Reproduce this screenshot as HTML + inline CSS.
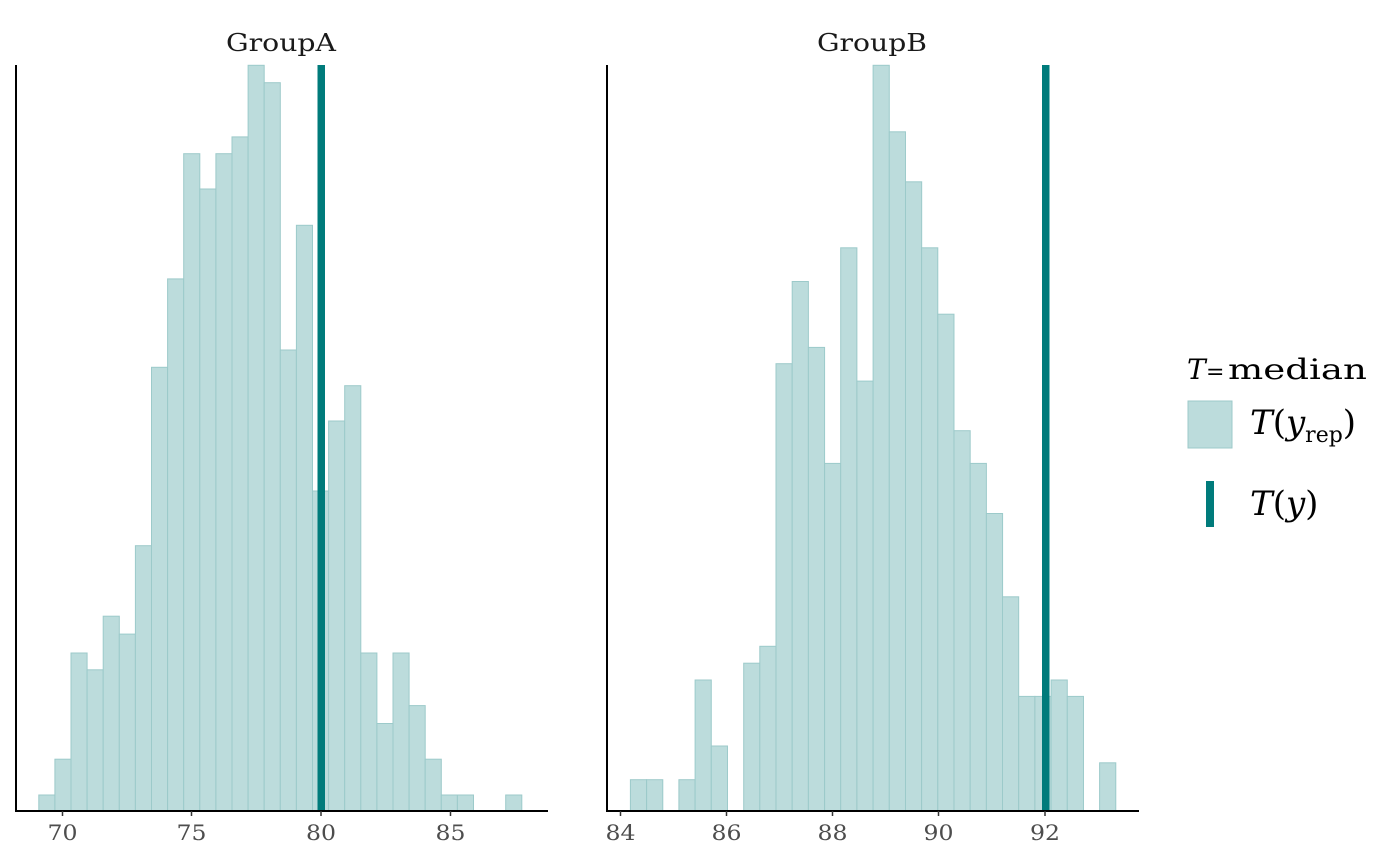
<!DOCTYPE html>
<html><head><meta charset="utf-8"><style>
html,body{margin:0;padding:0;background:#fff;}
svg{display:block;}
text{font-family:"DejaVu Serif","Liberation Serif",serif;}
</style></head><body>
<svg width="1400" height="866" viewBox="0 0 1400 866" xmlns="http://www.w3.org/2000/svg">
<g fill="#bcdcdc" stroke="#9ccaca" stroke-width="1">
<rect x="38.8" y="795" width="16.1" height="16"/>
<rect x="54.9" y="759.2" width="16.1" height="51.8"/>
<rect x="71.0" y="653" width="16.1" height="158"/>
<rect x="87.1" y="669.8" width="16.1" height="141.2"/>
<rect x="103.2" y="616.2" width="16.1" height="194.8"/>
<rect x="119.3" y="634.1" width="16.1" height="176.9"/>
<rect x="135.4" y="545.7" width="16.1" height="265.3"/>
<rect x="151.5" y="367.3" width="16.1" height="443.7"/>
<rect x="167.6" y="278.9" width="16.1" height="532.1"/>
<rect x="183.7" y="153.7" width="16.1" height="657.3"/>
<rect x="199.8" y="189" width="16.1" height="622"/>
<rect x="215.9" y="153.7" width="16.1" height="657.3"/>
<rect x="232.0" y="136.9" width="16.1" height="674.1"/>
<rect x="248.1" y="65.3" width="16.1" height="745.7"/>
<rect x="264.2" y="82.7" width="16.1" height="728.3"/>
<rect x="280.3" y="350" width="16.1" height="461"/>
<rect x="296.4" y="225.3" width="16.1" height="585.7"/>
<rect x="312.5" y="491" width="16.1" height="320"/>
<rect x="328.6" y="421" width="16.1" height="390"/>
<rect x="344.7" y="385.7" width="16.1" height="425.3"/>
<rect x="360.8" y="653" width="16.1" height="158"/>
<rect x="376.9" y="723.5" width="16.1" height="87.5"/>
<rect x="393.0" y="653" width="16.1" height="158"/>
<rect x="409.1" y="705.6" width="16.1" height="105.4"/>
<rect x="425.2" y="759.2" width="16.1" height="51.8"/>
<rect x="441.3" y="795" width="16.1" height="16"/>
<rect x="457.4" y="795" width="16.1" height="16"/>
<rect x="505.7" y="795" width="16.1" height="16"/>
<rect x="630.4" y="779.7" width="16.18" height="31.3"/>
<rect x="646.6" y="779.7" width="16.18" height="31.3"/>
<rect x="678.9" y="779.7" width="16.18" height="31.3"/>
<rect x="695.1" y="680" width="16.18" height="131"/>
<rect x="711.3" y="746" width="16.18" height="65"/>
<rect x="743.7" y="663.2" width="16.18" height="147.8"/>
<rect x="759.8" y="646.3" width="16.18" height="164.7"/>
<rect x="776.0" y="363.7" width="16.18" height="447.3"/>
<rect x="792.2" y="281.5" width="16.18" height="529.5"/>
<rect x="808.4" y="347.4" width="16.18" height="463.6"/>
<rect x="824.6" y="463.4" width="16.18" height="347.6"/>
<rect x="840.7" y="247.8" width="16.18" height="563.2"/>
<rect x="856.9" y="381.1" width="16.18" height="429.9"/>
<rect x="873.1" y="65.3" width="16.18" height="745.7"/>
<rect x="889.3" y="131.8" width="16.18" height="679.2"/>
<rect x="905.5" y="181.8" width="16.18" height="629.2"/>
<rect x="921.6" y="247.8" width="16.18" height="563.2"/>
<rect x="937.8" y="314.2" width="16.18" height="496.8"/>
<rect x="954.0" y="430.7" width="16.18" height="380.3"/>
<rect x="970.2" y="463.4" width="16.18" height="347.6"/>
<rect x="986.4" y="513.5" width="16.18" height="297.5"/>
<rect x="1002.5" y="596.8" width="16.18" height="214.2"/>
<rect x="1018.7" y="696.4" width="16.18" height="114.6"/>
<rect x="1034.9" y="696.4" width="16.18" height="114.6"/>
<rect x="1051.1" y="680" width="16.18" height="131"/>
<rect x="1067.3" y="696.4" width="16.18" height="114.6"/>
<rect x="1099.6" y="762.8" width="16.18" height="48.2"/>
</g>
<rect x="317.5" y="65" width="7.5" height="746" fill="#007b7b"/>
<rect x="1042" y="65" width="7.5" height="746" fill="#007b7b"/>
<g stroke="#000" stroke-width="2" fill="none">
<path d="M16 65 V811 H548"/>
<path d="M607 65 V811 H1139"/>
</g>
<g stroke="#333" stroke-width="1.5">
<path d="M62.5 811v5M191.5 811v5M321 811v5M450.5 811v5"/>
<path d="M620.5 811v5M726.5 811v5M832.5 811v5M938.5 811v5M1045 811v5"/>
</g>
<g fill="#4d4d4d" font-size="21" text-anchor="middle">
<text x="62.5" y="840" textLength="30" lengthAdjust="spacingAndGlyphs">70</text>
<text x="191.5" y="840" textLength="30" lengthAdjust="spacingAndGlyphs">75</text>
<text x="321" y="840" textLength="30" lengthAdjust="spacingAndGlyphs">80</text>
<text x="450.5" y="840" textLength="30" lengthAdjust="spacingAndGlyphs">85</text>
<text x="620.5" y="840" textLength="30" lengthAdjust="spacingAndGlyphs">84</text>
<text x="726.5" y="840" textLength="30" lengthAdjust="spacingAndGlyphs">86</text>
<text x="832.5" y="840" textLength="30" lengthAdjust="spacingAndGlyphs">88</text>
<text x="938.5" y="840" textLength="30" lengthAdjust="spacingAndGlyphs">90</text>
<text x="1045" y="840" textLength="30" lengthAdjust="spacingAndGlyphs">92</text>
</g>
<g fill="#1a1a1a" font-size="24" text-anchor="middle">
<text x="281" y="51" textLength="110" lengthAdjust="spacingAndGlyphs">GroupA</text>
<text x="872" y="51" textLength="110" lengthAdjust="spacingAndGlyphs">GroupB</text>
</g>
<text x="1187" y="379" font-size="28" fill="#000" font-style="italic">T</text>
<text x="1206" y="379" font-size="22" fill="#000">=</text>
<text x="1228" y="379" font-size="28" fill="#000" textLength="139" lengthAdjust="spacingAndGlyphs">median</text>
<rect x="1188" y="401" width="44" height="47" fill="#bcdcdc" stroke="#9ccaca"/>
<text x="1250" y="434" font-size="34" fill="#000"><tspan font-style="italic">T</tspan><tspan>(</tspan><tspan font-style="italic">y</tspan><tspan font-size="22" dy="8">rep</tspan><tspan dy="-8">)</tspan></text>
<rect x="1206" y="481" width="8" height="46" fill="#007b7b"/>
<text x="1250" y="515" font-size="34" fill="#000"><tspan font-style="italic">T</tspan><tspan>(</tspan><tspan font-style="italic">y</tspan><tspan>)</tspan></text>
</svg>
</body></html>
